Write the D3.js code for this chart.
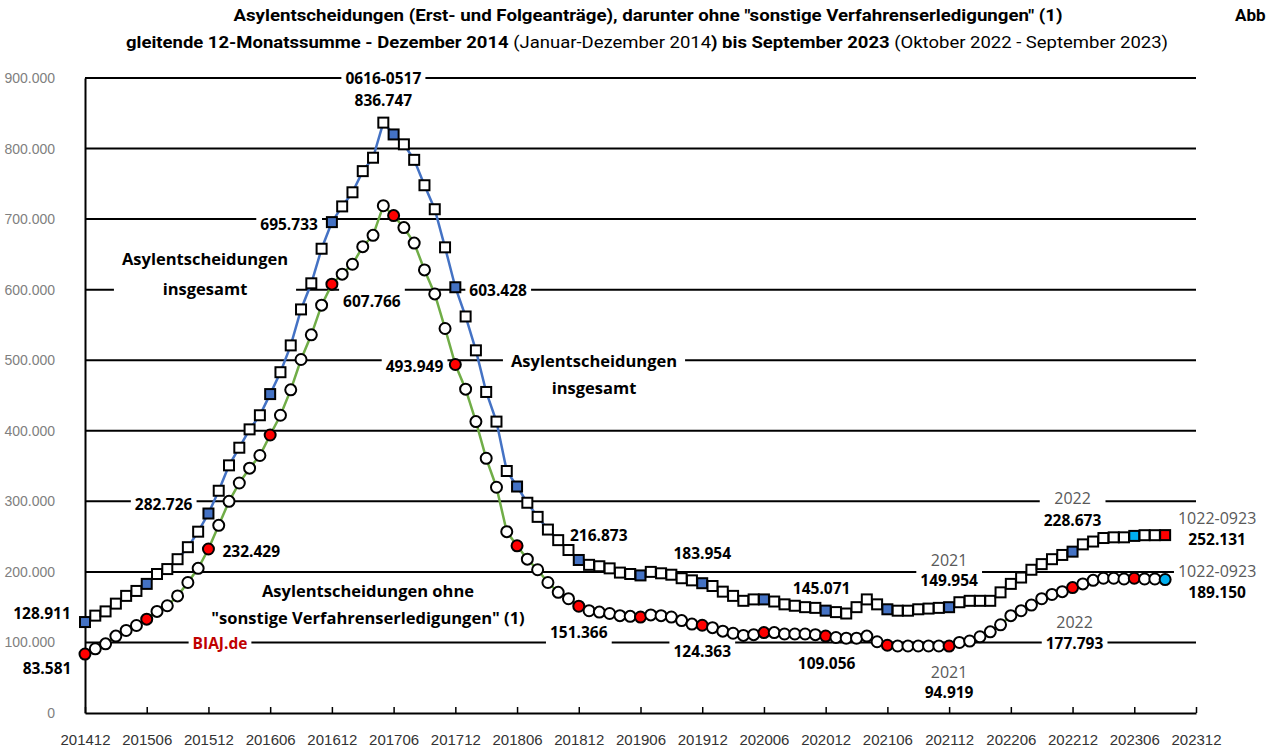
<!DOCTYPE html>
<html lang="de">

<head>
    <meta charset="UTF-8">
    <title>Asylentscheidungen</title>
    <script src="https://cdn.jsdelivr.net/npm/d3@7"></script>
    <style>
        body { margin: 0; background: #fff; }
    </style>
</head>

<body>
    <script>
    // Monate (gleitende 12-Monatssumme)
    var months = [
        '201412',
        '201501', '201502', '201503', '201504', '201505', '201506', '201507', '201508', '201509', '201510', '201511', '201512',
        '201601', '201602', '201603', '201604', '201605', '201606', '201607', '201608', '201609', '201610', '201611', '201612',
        '201701', '201702', '201703', '201704', '201705', '201706', '201707', '201708', '201709', '201710', '201711', '201712',
        '201801', '201802', '201803', '201804', '201805', '201806', '201807', '201808', '201809', '201810', '201811', '201812',
        '201901', '201902', '201903', '201904', '201905', '201906', '201907', '201908', '201909', '201910', '201911', '201912',
        '202001', '202002', '202003', '202004', '202005', '202006', '202007', '202008', '202009', '202010', '202011', '202012',
        '202101', '202102', '202103', '202104', '202105', '202106', '202107', '202108', '202109', '202110', '202111', '202112',
        '202201', '202202', '202203', '202204', '202205', '202206', '202207', '202208', '202209', '202210', '202211', '202212',
        '202301', '202302', '202303', '202304', '202305', '202306', '202307', '202308', '202309'
    ];
    // Asylentscheidungen insgesamt
    var totalValues = [
        128911,
        138000, 144000, 155000, 166000, 173000, 183000, 197000, 204000, 218000, 235000, 257000, 282726,
        315000, 351000, 376000, 402000, 422000, 452000, 483000, 521000, 572000, 609000, 658000, 695733,
        718000, 738000, 768000, 787000, 836747, 820000, 806000, 784000, 748000, 714000, 660000, 603428,
        562000, 514000, 455000, 413000, 343000, 321000, 298000, 278000, 260000, 245000, 231000, 216873,
        210000, 208000, 205000, 199000, 197000, 195000, 200000, 198000, 196000, 191000, 188000, 183954,
        180000, 172000, 166000, 159000, 161000, 161000, 158000, 154000, 152000, 150000, 149000, 145071,
        143000, 141000, 150000, 161000, 154000, 147000, 145000, 145000, 147000, 148000, 149000, 149954,
        157000, 159000, 159000, 159000, 171000, 183000, 192000, 203000, 211000, 218000, 224000, 228673,
        239000, 243000, 248000, 249000, 249000, 251000, 252000, 252000, 252131
    ];
    // ohne "sonstige Verfahrenserledigungen"
    var ohneValues = [
        83581,
        91000, 98000, 109000, 117000, 124000, 133000, 144000, 152000, 166000, 185000, 205000, 232429,
        266000, 300000, 326000, 347000, 365000, 394000, 422000, 458000, 501000, 536000, 578000, 607766,
        622000, 636000, 661000, 677000, 719000, 705000, 688000, 666000, 628000, 594000, 545000, 493949,
        459000, 413000, 361000, 320000, 257000, 237000, 218000, 203000, 185000, 171000, 162000, 151366,
        145000, 143000, 141000, 138000, 137000, 136000, 139000, 138000, 136000, 131000, 126000, 124363,
        121000, 116000, 113000, 110000, 111000, 114000, 114000, 112000, 112000, 112000, 111000, 109056,
        107000, 106000, 106000, 109000, 101000, 96000, 95000, 95000, 95000, 95000, 95000, 94919,
        100000, 102000, 108000, 115000, 125000, 138000, 145000, 153000, 162000, 168000, 172000, 177793,
        183000, 188000, 191000, 191000, 190000, 191000, 190000, 190000, 189150
    ];
    // x-Achse
    var tickLabels = ['201412', '201506', '201512', '201606', '201612', '201706', '201712', '201806', '201812',
        '201906', '201912', '202006', '202012', '202106', '202112', '202206', '202212', '202306', '202312'];
    var yTicks = [0, 100000, 200000, 300000, 400000, 500000, 600000, 700000, 800000, 900000];
    // hervorgehobene Monate
    var markMonths = ['201412', '201506', '201512', '201606', '201612', '201706', '201712', '201806', '201812',
        '201906', '201912', '202006', '202012', '202106', '202112', '202212'];

    var width = 1266; //画布宽
    var height = 753; //画布高
    var padding = { top: 78, right: 70, bottom: 40, left: 85 };

    var de = d3.formatLocale({ decimal: ',', thousands: '.', grouping: [3], currency: ['', ' €'] });
    var fmt = de.format(',d');

    var svg = d3.select('body')
        .append('svg')
        .attr('width', width)
        .attr('height', height)
        .style('font-family', '"Open Sans", "Noto Sans", sans-serif');

    var x = d3.scaleLinear().domain([0, 108]).range([padding.left, width - padding.right]);
    var y = d3.scaleLinear().domain([0, 900000]).range([height - padding.bottom, padding.top]);

    // Titel
    var titleFont = '"Liberation Sans Narrow", "Roboto", sans-serif';
    svg.append('text')
        .attr('x', 648).attr('y', 21)
        .attr('text-anchor', 'middle')
        .attr('font-family', titleFont)
        .attr('font-weight', 'bold').attr('font-size', 17)
        .attr('textLength', 829).attr('lengthAdjust', 'spacingAndGlyphs')
        .text('Asylentscheidungen (Erst- und Folgeanträge), darunter ohne "sonstige Verfahrenserledigungen" (1)');
    svg.append('text')
        .attr('x', 1235).attr('y', 21)
        .attr('font-family', titleFont)
        .attr('font-weight', 'bold').attr('font-size', 17)
        .text('Abb');
    var t2 = svg.append('text')
        .attr('x', 647).attr('y', 48)
        .attr('text-anchor', 'middle')
        .attr('font-family', titleFont)
        .attr('font-size', 17)
        .attr('textLength', 1042).attr('lengthAdjust', 'spacingAndGlyphs');
    [['gleitende 12-Monatssumme - Dezember 2014 ', 'bold'], ['(Januar-Dezember 2014', 'normal'],
        [') bis September 2023 ', 'bold'], ['(Oktober 2022 - September 2023)', 'normal']].forEach(function(p) {
        t2.append('tspan').attr('font-weight', p[1]).text(p[0]);
    });

    // Gitternetz
    svg.append('g')
        .selectAll('line')
        .data(yTicks.slice(1))
        .enter()
        .append('line')
        .attr('x1', x(0)).attr('x2', x(108))
        .attr('y1', function(d) { return y(d); })
        .attr('y2', function(d) { return y(d); })
        .attr('stroke', '#000')
        .attr('stroke-width', 2);

    // Achsen
    var xAxis = d3.axisBottom(x)
        .tickValues(d3.range(0, 109, 6))
        .tickFormat(function(d, i) { return tickLabels[i]; })
        .tickSizeInner(-6).tickSizeOuter(0).tickPadding(21);
    var gx = svg.append('g')
        .attr('transform', 'translate(0,' + y(0) + ')')
        .call(xAxis);
    gx.select('.domain').attr('stroke', '#000').attr('stroke-width', 2);
    gx.selectAll('.tick line').attr('stroke', '#000').attr('stroke-width', 1.5);
    gx.selectAll('.tick text')
        .attr('font-family', '"Liberation Sans", Arial, sans-serif')
        .attr('font-size', 15).attr('fill', '#333');

    var yAxis = d3.axisLeft(y)
        .tickValues(yTicks)
        .tickFormat(fmt)
        .tickSize(0).tickPadding(30);
    var gy = svg.append('g')
        .attr('transform', 'translate(' + x(0) + ',0)')
        .call(yAxis);
    gy.select('.domain').attr('stroke', '#000').attr('stroke-width', 2);
    gy.selectAll('.tick text')
        .attr('font-family', '"Liberation Sans", Arial, sans-serif')
        .attr('font-size', 14).attr('fill', '#808080');

    // Beschriftungen (weiße Textfelder)
    var gray = '#595959';
    var notes = [
        { s: 't', i: 29, dx: 0, dy: -45, gap: 22, lines: [['0616-0517', 'b'], ['v', 'b']] },
        { s: 't', i: 24, dx: -14, dy: 2, anchor: 'end', lines: [['v', 'b']] },
        { s: 'o', i: 24, dx: 40, dy: 17, lines: [['v', 'b']] },
        { s: 't', i: 36, dx: 14, dy: 3, anchor: 'start', lines: [['v', 'b']] },
        { s: 'o', i: 36, dx: -12, dy: 2, anchor: 'end', lines: [['v', 'b']] },
        { s: 't', i: 12, dx: -16, dy: -10, anchor: 'end', lines: [['v', 'b']] },
        { s: 'o', i: 12, dx: 14, dy: 2, anchor: 'start', lines: [['v', 'b']] },
        { s: 't', i: 48, dx: 20, dy: -25, lines: [['v', 'b']] },
        { s: 'o', i: 48, dx: 0, dy: 26, lines: [['v', 'b']] },
        { s: 't', i: 60, dx: 0, dy: -30, lines: [['v', 'b']] },
        { s: 'o', i: 60, dx: 0, dy: 26, lines: [['v', 'b']] },
        { s: 't', i: 72, dx: -4, dy: -23, lines: [['v', 'b']] },
        { s: 'o', i: 72, dx: 1, dy: 27, lines: [['v', 'b']] },
        { s: 't', i: 84, dx: 0, dy: -47, gap: 20, lines: [['2021', 'n'], ['v', 'b']] },
        { s: 'o', i: 84, dx: 0, dy: 26, gap: 20, lines: [['2021', 'n'], ['v', 'b']] },
        { s: 't', i: 96, dx: 0, dy: -54, gap: 22, lines: [['2022', 'n'], ['v', 'b']] },
        { s: 'o', i: 96, dx: 2, dy: 34, gap: 21, lines: [['2022', 'n'], ['v', 'b']] },
        { s: 't', i: 105, dx: 52, dy: -17, gap: 21, lines: [['1022-0923', 'n'], ['v', 'b']] },
        { s: 'o', i: 105, dx: 52, dy: -9, gap: 21, lines: [['1022-0923', 'n'], ['v', 'b']] },
        { s: 't', i: 0, dx: -43, dy: -9, lines: [['v', 'b']] },
        { s: 'o', i: 0, dx: -38, dy: 14, lines: [['v', 'b']] }
    ];
    var freeNotes = [
        { px: 205, py: 258, gap: 30, pad: 8, size: 16.5, lines: [['Asylentscheidungen', 'b'], ['insgesamt', 'b']] },
        { px: 594, py: 360, gap: 27, pad: 8, size: 16.5, lines: [['Asylentscheidungen', 'b'], ['insgesamt', 'b']] },
        { px: 368, py: 590, gap: 27, pad: 10, size: 16.5, lines: [['Asylentscheidungen ohne', 'b'], ['"sonstige Verfahrenserledigungen" (1)', 'b']] },
        { px: 220, py: 643, lines: [['BIAJ.de', 'r']] }
    ];

    var noteLayer = svg.append('g');

    function drawNote(px, py, n, value) {
        var g = noteLayer.append('g');
        var t = g.append('text')
            .attr('text-anchor', n.anchor || 'middle')
            .attr('dominant-baseline', 'central');
        n.lines.forEach(function(l, k) {
            t.append('tspan')
                .attr('x', px)
                .attr('y', py + k * (n.gap || 21))
                .attr('font-weight', l[1] === 'n' ? 'normal' : 'bold')
                .attr('fill', l[1] === 'n' ? gray : (l[1] === 'r' ? '#c00000' : '#000'))
                .attr('font-size', n.size || (l[1] === 'n' ? 16 : 15.5))
                .text(l[0] === 'v' ? fmt(value) : l[0]);
        });
        var b = t.node().getBBox();
        var pad = n.pad || 4;
        g.insert('rect', 'text')
            .attr('x', b.x - pad).attr('y', b.y - 3)
            .attr('width', b.width + 2 * pad).attr('height', b.height + 6)
            .attr('fill', '#fff');
    }

    notes.forEach(function(n) {
        var vals = n.s === 't' ? totalValues : ohneValues;
        drawNote(x(n.i) + n.dx, y(vals[n.i]) + n.dy, n, vals[n.i]);
    });
    freeNotes.forEach(function(n) {
        drawNote(n.px, n.py, n, 0);
    });

    // Linien
    var line = function(vals) {
        return d3.line()
            .x(function(d, i) { return x(i); })
            .y(function(d) { return y(d); })(vals);
    };

    function markColor(i, series) {
        var m = months[i];
        if (m === '202309') return series === 't' ? '#ff0000' : '#00b0f0';
        if (m === '202306') return series === 't' ? '#00b0f0' : '#ff0000';
        if (markMonths.indexOf(m) >= 0) return series === 't' ? '#4472c4' : '#ff0000';
        return '#fff';
    }

    svg.append('path')
        .attr('d', line(totalValues))
        .attr('fill', 'none')
        .attr('stroke', '#4472c4')
        .attr('stroke-width', 2.5);

    svg.append('g')
        .selectAll('rect')
        .data(totalValues)
        .enter()
        .append('rect')
        .attr('x', function(d, i) { return x(i) - 5; })
        .attr('y', function(d) { return y(d) - 5; })
        .attr('width', 10)
        .attr('height', 10)
        .attr('fill', function(d, i) { return markColor(i, 't'); })
        .attr('stroke', '#000')
        .attr('stroke-width', 2);

    svg.append('path')
        .attr('d', line(ohneValues))
        .attr('fill', 'none')
        .attr('stroke', '#70ad47')
        .attr('stroke-width', 2.5);

    svg.append('g')
        .selectAll('circle')
        .data(ohneValues)
        .enter()
        .append('circle')
        .attr('cx', function(d, i) { return x(i); })
        .attr('cy', function(d) { return y(d); })
        .attr('r', 5.5)
        .attr('fill', function(d, i) { return markColor(i, 'o'); })
        .attr('stroke', '#000')
        .attr('stroke-width', 2);
    </script>
</body>

</html>
